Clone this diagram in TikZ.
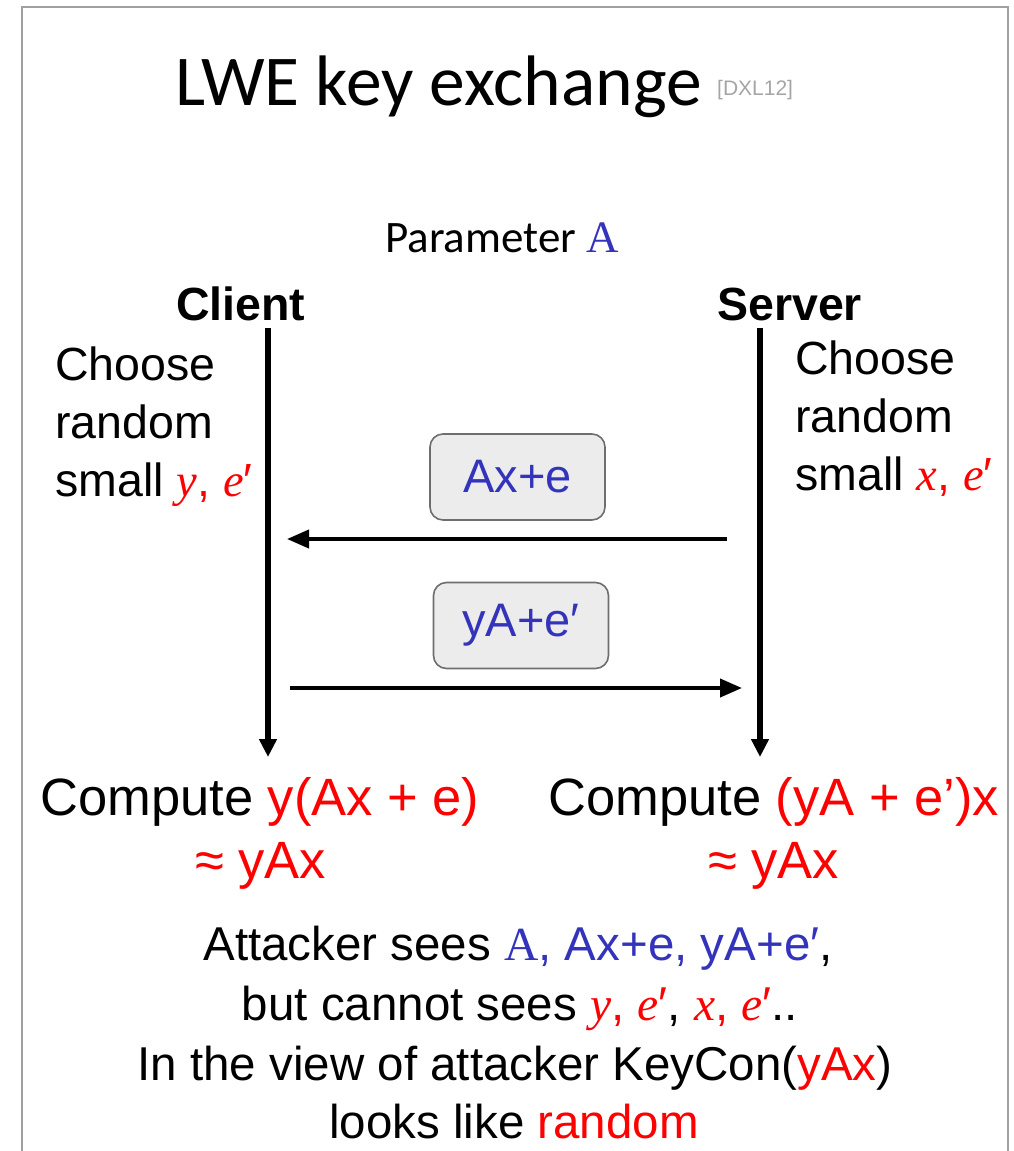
\documentclass[tikz,border=0pt]{standalone}
\usepackage{fontspec}
\setmainfont{Liberation Sans}
\newfontfamily\calibri{Carlito}
\newfontfamily\serifvar{Liberation Serif}
\usetikzlibrary{arrows.meta}
\definecolor{msgblue}{RGB}{51,51,187}
\definecolor{framegray}{RGB}{160,160,160}
\definecolor{boxfill}{RGB}{236,236,236}
\definecolor{boxline}{RGB}{110,110,110}
\definecolor{refgray}{RGB}{165,165,165}
\newcommand{\sz}[2]{\fontsize{#1}{#2}\selectfont}
\newcommand{\rd}[1]{\textcolor{red}{#1}}
\newcommand{\bl}[1]{\textcolor{msgblue}{#1}}
% variables set in a serif italic, the matrix A upright serif
\newcommand{\vr}[1]{{\serifvar\itshape #1}}
\newcommand{\mA}{{\serifvar A}}
\begin{document}
\begin{tikzpicture}[x=1pt,y=-1pt,
  txt/.style={inner sep=0pt, anchor=base west},
  party/.style={inner sep=0pt, anchor=base west, font=\bfseries\sz{46.5}{56}},
  lifeline/.style={line width=5.5pt, -{Triangle[length=18pt,width=17pt]}},
  msg/.style={line width=4pt, -{Triangle[length=22pt,width=18pt]}},
  msgbox/.style={draw=boxline, fill=boxfill, line width=1.6pt, rounded corners=13pt,
    minimum width=175pt, minimum height=86pt, inner sep=0pt,
    text=msgblue, font=\sz{47}{56}},
  block/.style={inner sep=0pt, anchor=base west, align=left, font=\sz{46.5}{58}},
  attack/.style={inner sep=0pt, anchor=base, font=\sz{47.5}{59}},
]
\useasboundingbox (0,0) rectangle (1013,1151);
% page frame, open at the bottom
\draw[framegray, line width=2pt] (22,1153) -- (22,7) -- (1008,7) -- (1008,1153);

% heading
\node[txt, font=\calibri\sz{71.5}{84}] (title) at (175,105) {LWE key exchange};
\node[txt, font=\sz{21}{25}, text=refgray] (cite) at (717,95) {[DXL12]};

\node[txt, font=\calibri\sz{45}{54}] (param) at (385,252) {Parameter \bl{\mA}};

% the two parties
\node[party] (client) at (176,320) {Client};
\node[party] (server) at (717,320) {Server};

\coordinate (cTop) at (268,328);
\coordinate (cEnd) at (268,757);
\coordinate (sTop) at (760,328);
\coordinate (sEnd) at (760,757);
\draw[lifeline] (cTop) -- (cEnd);
\draw[lifeline] (sTop) -- (sEnd);

% base anchor of a multi-line block is its last line
\node[block] (cchoose) at (55,496) {Choose\\random\\small \rd{\vr{y}, \vr{e}′}};
\node[block] (schoose) at (795,490) {Choose\\random\\small \rd{\vr{x}, \vr{e}′}};

% messages
\node[msgbox] (m1) at (517.5,477) {Ax+e};
\node[msgbox] (m2) at (521,625.5) {yA+e′};

\coordinate (m1from) at (727,539);
\coordinate (m1to) at (287,539);
\coordinate (m2from) at (290,688);
\coordinate (m2to) at (742,688);
\draw[msg] (m1from) -- (m1to);
\draw[msg] (m2from) -- (m2to);

% results
\node[txt, font=\sz{52.5}{62}] (ccomp) at (40,815) {Compute \rd{y(Ax + e)}};
\node[txt, font=\sz{52.5}{62}] (scomp) at (548,815) {Compute \rd{(yA + e’)x}};
\node[txt, font=\sz{52.5}{62}, text=red] (capprox) at (195,878) {≈ yAx};
\node[txt, font=\sz{52.5}{62}, text=red] (sapprox) at (708,878) {≈ yAx};

% what the attacker sees
\node[attack] (l1) at (518,960) {Attacker sees \bl{\mA, Ax+e, yA+e′},};
\node[attack] (l2) at (520,1020) {but cannot sees \rd{\vr{y}, \vr{e}′}, \rd{\vr{x}, \vr{e}′}..};
\node[attack] (l3) at (515,1080) {In the view of attacker KeyCon(\rd{yAx})};
\node[attack] (l4) at (514,1138) {looks like \rd{random}};
\end{tikzpicture}
\end{document}
